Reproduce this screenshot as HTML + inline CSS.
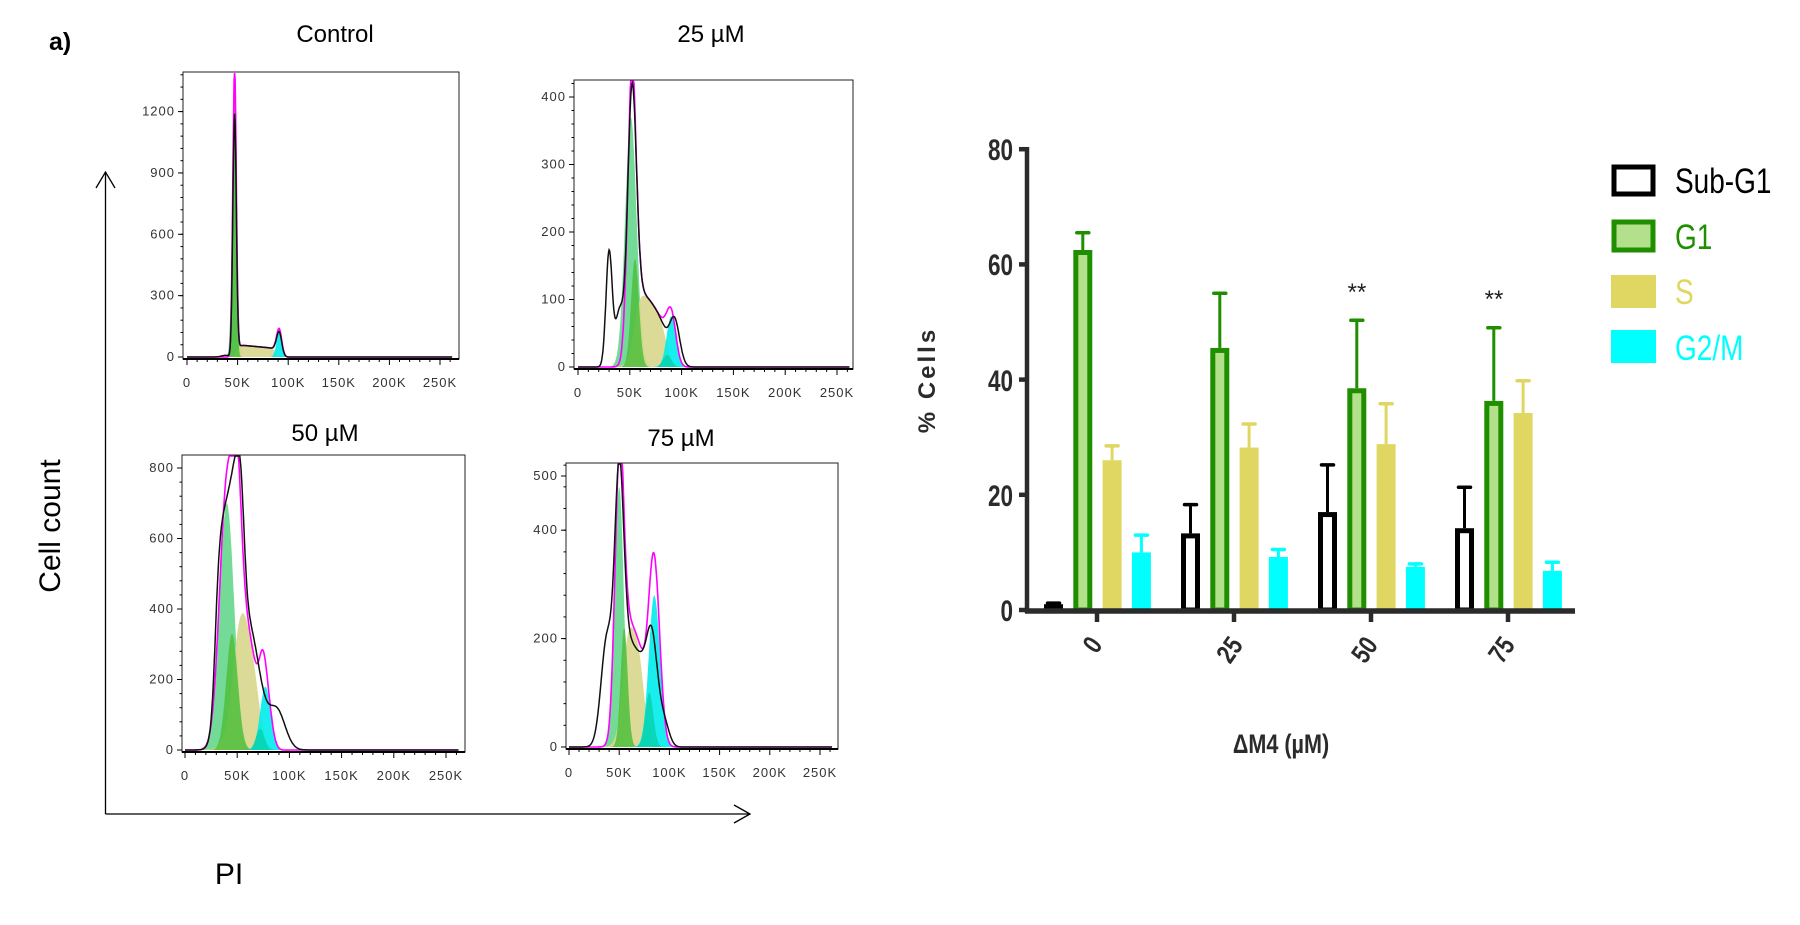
<!DOCTYPE html>
<html><head><meta charset="utf-8"><style>
html,body{margin:0;padding:0;background:#fff;}
svg{display:block}
</style></head><body>
<svg id="s" width="1800" height="925" xmlns="http://www.w3.org/2000/svg" font-family="Liberation Sans, sans-serif">
<rect width="1800" height="925" fill="#fff"/>
<text x="49" y="50" font-size="25" font-weight="bold">a)</text>
<text x="335" y="42" font-size="24" text-anchor="middle">Control</text>
<text x="711" y="42" font-size="24" text-anchor="middle">25 µM</text>
<text x="325" y="441" font-size="24" text-anchor="middle">50 µM</text>
<text x="681" y="446" font-size="24" text-anchor="middle">75 µM</text>
<line x1="105.5" y1="172" x2="105.5" y2="814" stroke="#000" stroke-width="1.3"/>
<polyline points="96,188 105.5,172 115,188" fill="none" stroke="#000" stroke-width="1.3"/>
<line x1="105.5" y1="814" x2="750" y2="814" stroke="#000" stroke-width="1.3"/>
<polyline points="734,805 750,814 734,823" fill="none" stroke="#000" stroke-width="1.3"/>
<text transform="translate(60,526) rotate(-90)" font-size="30" text-anchor="middle">Cell count</text>
<text x="229" y="884" font-size="30" text-anchor="middle">PI</text>
<g id="hist"></g>
<g id="bars"></g>
<g font-family="Liberation Sans, sans-serif" font-weight="bold" fill="#2b2b2b" font-size="30">
<text transform="translate(1013,160) scale(0.75,1)" text-anchor="end">80</text>
<text transform="translate(1013,275) scale(0.75,1)" text-anchor="end">60</text>
<text transform="translate(1013,391) scale(0.75,1)" text-anchor="end">40</text>
<text transform="translate(1013,506) scale(0.75,1)" text-anchor="end">20</text>
<text transform="translate(1013,621) scale(0.75,1)" text-anchor="end">0</text>
</g>
<text transform="translate(935,380) rotate(-90)" font-size="24" font-weight="bold" fill="#2b2b2b" text-anchor="middle" letter-spacing="3">% Cells</text>
<g font-weight="bold" fill="#2b2b2b" font-size="27">
<text transform="translate(1100,650) rotate(-55) scale(0.8,1)" text-anchor="middle">0</text>
<text transform="translate(1237,655) rotate(-55) scale(0.8,1)" text-anchor="middle">25</text>
<text transform="translate(1372,655) rotate(-55) scale(0.8,1)" text-anchor="middle">50</text>
<text transform="translate(1509,655) rotate(-55) scale(0.8,1)" text-anchor="middle">75</text>
<text transform="translate(1281,753) scale(0.8,1)" text-anchor="middle">ΔM4 (µM)</text>
</g>
<text x="1357" y="300" font-size="24" fill="#222" text-anchor="middle">**</text>
<text x="1494" y="307" font-size="24" fill="#222" text-anchor="middle">**</text>
<rect x="1614" y="167" width="39" height="27" fill="#fff" stroke="#000" stroke-width="5"/>
<rect x="1614" y="222" width="39" height="28" fill="#b3e08a" stroke="#1f8f00" stroke-width="5"/>
<rect x="1611" y="275" width="45" height="33" fill="#e0d762"/>
<rect x="1611" y="330" width="45" height="33" fill="#00ffff"/>
<g font-size="35">
<text transform="translate(1675,193) scale(0.8,1)" fill="#000">Sub-G1</text>
<text transform="translate(1675,249) scale(0.8,1)" fill="#1f8f00">G1</text>
<text transform="translate(1675,304) scale(0.8,1)" fill="#e0d762">S</text>
<text transform="translate(1675,360) scale(0.8,1)" fill="#00ffff">G2/M</text>
</g>
</svg>
<script>
var NS="http://www.w3.org/2000/svg";
function el(p,t,a,txt){var e=document.createElementNS(NS,t);for(var k in a)e.setAttribute(k,a[k]);if(txt!==undefined)e.textContent=txt;p.appendChild(e);return e;}
function g(m,s,a){return function(x){return a*Math.exp(-0.5*(x-m)*(x-m)/(s*s));};}
function sg(x){return 1/(1+Math.exp(-x));}
function plat(a,b,w,A,slope){return function(x){return A*sg((x-a)/w)*sg((b-x)/w)*(1-(slope||0)*(x-a)/(b-a));};}
function sum(){var f=[].slice.call(arguments);return function(x){var s=0;for(var i=0;i<f.length;i++)s+=f[i](x);return s;};}
function sc(f,k){return function(x){return k*f(x);};}
var H=document.getElementById('hist');
function panel(c){
  var X=function(x){return c.x0+x*c.kx;};
  var Y=function(v){return Math.max(c.top+1,c.y0-v*c.ky);};
  function path(f,fill,col,sw){
    var d="M"+X(0)+","+c.y0;
    for(var x=0;x<=262;x+=0.5){d+=" L"+X(x).toFixed(1)+","+Y(f(x)).toFixed(1);}
    d+=" L"+X(262)+","+c.y0;
    if(fill)d+="Z";
    el(H,'path',{d:d,fill:fill||'none',stroke:col||'none','stroke-width':sw||0});
  }
  c.fills.forEach(function(p){path(p[0],p[1]);});
  path(c.mag,null,'#ff00ff',1.6);
  path(c.blk,null,'#111',1.5);
  el(H,'rect',{x:c.L,y:c.top,width:c.R-c.L,height:c.B-c.top,fill:'none',stroke:'#222','stroke-width':1});
  el(H,'line',{x1:c.L,y1:c.B,x2:c.R,y2:c.B,stroke:'#000','stroke-width':2});
  for(var k=0;k<=260;k+=10){var xx=X(k);if(xx>c.R)break;var maj=k%50==0;
    el(H,'line',{x1:xx,y1:c.B,x2:xx,y2:c.B+(maj?6:3),stroke:'#000','stroke-width':1});
    if(maj)el(H,'text',{x:xx,y:c.B+28,'font-size':13,'text-anchor':'middle',fill:'#333','letter-spacing':1},k==0?'0':(k+'K'));}
  c.yt.forEach(function(v){var yy=c.y0-v*c.ky;
    el(H,'line',{x1:c.L-5,y1:yy,x2:c.L,y2:yy,stroke:'#000','stroke-width':1});
    el(H,'text',{x:c.L-8,y:yy+4,'font-size':13,'text-anchor':'end',fill:'#333','letter-spacing':1},String(v));});
  var st=c.yt[1]/ (c.minor||5);
  for(var v=0;c.y0-v*c.ky>c.top;v+=st){var yy=c.y0-v*c.ky;el(H,'line',{x1:c.L-2.5,y1:yy,x2:c.L,y2:yy,stroke:'#000','stroke-width':1});}
}
var LG='rgba(100,215,140,0.9)',DG='rgba(80,190,60,0.85)',YE='rgba(215,215,140,0.9)',CY='rgba(0,235,235,0.9)',TE='rgba(0,200,150,0.6)';
(function(){var G1=g(47,1.7,1400),S=plat(49,88,1.5,60,0.3),G2=g(91,2.6,120);
panel({L:183,R:459,top:72,B:359,x0:187,kx:1.012,y0:357,ky:0.2045,yt:[0,300,600,900,1200],
fills:[[g(47,2.3,1300),LG],[S,YE],[G1,DG],[G2,CY]],
blk:sum(sc(G1,0.84),S,G2,g(38,4,8)),mag:sum(G1,S,G2,g(91,2.6,15))});})();
(function(){var G1=g(52,4.2,390),S=plat(55,86,3,130,0.5),G2=g(90,4.5,75);
panel({L:574,R:853,top:80,B:369,x0:578,kx:1.036,y0:367,ky:0.675,yt:[0,100,200,300,400],
fills:[[g(51,5.5,370),LG],[S,YE],[g(55,3.8,160),DG],[G2,CY],[g(86,4,18),TE]],
blk:sum(g(30,3,170),g(40,4,80),sc(G1,0.98),S,g(93,5,70)),mag:sum(G1,S,G2,g(52,2,30))});})();
(function(){var G1=g(40,7,700),S=plat(48,72,4,560,0.6),G2=g(77,5,180);
panel({L:182,R:465,top:455,B:752,x0:185,kx:1.044,y0:750,ky:0.3525,yt:[0,200,400,600,800],
fills:[[G1,LG],[S,YE],[g(45,5.5,330),DG],[G2,CY],[g(72,4,60),TE]],
blk:sum(plat(29,56,2.2,640,-0.2),g(62,10,330),g(88,8,110)),mag:sum(G1,S,G2,g(50,4,300),g(74,3,60))});})();
(function(){var G1=g(50,4.5,480),S=plat(54,75,3,270,0.3),G2=g(85,5.5,280);
panel({L:566,R:838,top:463,B:749,x0:569,kx:1.004,y0:747,ky:0.542,yt:[0,200,400,500],minor:5,
fills:[[G1,LG],[S,YE],[g(55,3.5,220),DG],[G2,CY],[g(80,4,100),TE]],
blk:sum(g(38,6,200),sc(G1,0.95),sc(S,0.85),g(82,6,210),g(95,5,40)),mag:sum(G1,S,G2,g(82,6,80),g(52,2,40))});})();

var B=document.getElementById('bars');
var y0=610,ky=5.76;
function Yb(v){return y0-v*ky;}
var data=[[1,1.2,62.5,65.5,26,28.5,10,13],[13.3,18.3,45.5,55,28.2,32.3,9.2,10.5],[17,25.2,38.5,50.3,28.8,35.8,7.5,8],[14.2,21.3,36.3,49,34.2,39.8,6.8,8.3]];
var cols=[['#fff','#000'],['#b3e08a','#1f8f00'],['#e0d762',null],['#00ffff',null]];
data.forEach(function(d,gi){
  var gx=1044+gi*137;
  for(var i=0;i<4;i++){
    var x=gx+i*29.3,w=19,v=d[i*2],e=d[i*2+1],c=cols[i];
    var ec=c[1]||c[0];
    el(B,'line',{x1:x+w/2,y1:Yb(e),x2:x+w/2,y2:Yb(v),stroke:ec,'stroke-width':3});
    el(B,'line',{x1:x+w/2-6,y1:Yb(e),x2:x+w/2+6,y2:Yb(e),stroke:ec,'stroke-width':3.5,'stroke-linecap':'round'});
    if(c[1]) el(B,'rect',{x:x+2.5,y:Yb(v)+2.5,width:w-5,height:Math.max(0,v*ky-2.5),fill:c[0],stroke:c[1],'stroke-width':5});
    else el(B,'rect',{x:x,y:Yb(v),width:w,height:v*ky,fill:c[0]});
  }
  el(B,'line',{x1:1097+gi*137,y1:610,x2:1097+gi*137,y2:622,stroke:'#2b2b2b','stroke-width':4.5});
});
el(B,'line',{x1:1027,y1:147,x2:1027,y2:613,stroke:'#2b2b2b','stroke-width':4.5});
el(B,'line',{x1:1025,y1:611,x2:1575,y2:611,stroke:'#2b2b2b','stroke-width':5.5});
[0,20,40,60,80].forEach(function(v){el(B,'line',{x1:1019,y1:Yb(v),x2:1027,y2:Yb(v),stroke:'#2b2b2b','stroke-width':4.5});});
</script>
</body></html>
